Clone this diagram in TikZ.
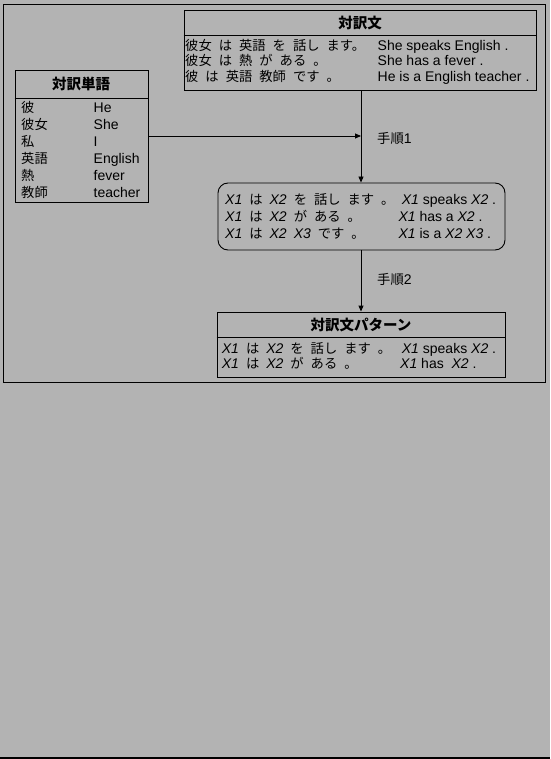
\documentclass[tikz,border=0pt]{standalone}
\usepackage{fontspec}
\setmainfont{Liberation Sans}
\newfontfamily\jp{Noto Sans CJK JP}
\usetikzlibrary{arrows.meta}
\definecolor{bg}{RGB}{179,179,179}
\newcommand\J[1]{{\jp\fontsize{13.3pt}{16pt}\selectfont #1}}
\newcommand\JT[1]{{\jp\bfseries\fontsize{14.5pt}{16pt}\selectfont #1}}
\newcommand\js{\hspace{7pt}}
\newcommand\X[1]{\textit{#1}}
\begin{document}
\begin{tikzpicture}[x=1pt,y=-1pt,
  font=\fontsize{14pt}{16pt}\selectfont,
  txt/.style={anchor=base west, inner sep=0pt},
  ttl/.style={anchor=center, inner sep=0pt},
  box/.style={draw, line width=0.9pt, inner sep=0pt},
  conn/.style={line width=0.9pt, -{Triangle[length=6pt,width=5pt]}},
  lab/.style={anchor=west, inner sep=0pt}]
\useasboundingbox (0,0) rectangle (550,759);
\fill[bg] (0,0) rectangle (550,759);
\fill[black] (0,756.6) rectangle (550,759);
\draw[line width=0.9pt] (3.3,4.3) rectangle (545.5,382.7);

% top box
\node[box, minimum width=352pt, minimum height=80pt] (top) at (360,50) {};
\draw[line width=0.9pt] (top.west |- 0,35) -- (top.east |- 0,35);
\node[ttl] (topT) at (360,23.5) {\JT{対訳文}};
\node[txt] (t1a) at (185,50.5) {\J{彼女\js は\js 英語\js を\js 話し\js ます。}};
\node[txt] (t2a) at (185,66) {\J{彼女\js は\js 熱\js が\js ある\js 。}};
\node[txt] (t3a) at (185,81.5) {\J{彼\js は\js 英語\js 教師\js です\js 。}};
\node[txt] (t1b) at (377.5,50.5) {She speaks English .};
\node[txt] (t2b) at (377.5,66) {She has a fever .};
\node[txt] (t3b) at (377.5,81.5) {He is a English teacher .};

% left box
\node[box, minimum width=133pt, minimum height=132pt] (left) at (81.5,136) {};
\draw[line width=0.9pt] (left.west |- 0,98) -- (left.east |- 0,98);
\node[ttl] (leftT) at (81,83.5) {\JT{対訳単語}};
\node[txt] (w1a) at (21,112.5) {\J{彼}};
\node[txt] (w2a) at (21,129.5) {\J{彼女}};
\node[txt] (w3a) at (21,146.5) {\J{私}};
\node[txt] (w4a) at (21,163.5) {\J{英語}};
\node[txt] (w5a) at (21,180.5) {\J{熱}};
\node[txt] (w6a) at (21,197.3) {\J{教師}};
\node[txt] (w1b) at (93.5,112.5) {He};
\node[txt] (w2b) at (93.5,129.5) {She};
\node[txt] (w3b) at (93.5,146.5) {I};
\node[txt] (w4b) at (93.5,163.5) {English};
\node[txt] (w5b) at (93.5,180.5) {fever};
\node[txt] (w6b) at (93.5,197.3) {teacher};

% middle rounded box
\node[box, rounded corners=10pt, minimum width=287pt, minimum height=67pt] (mid) at (361.5,216.5) {};
\node[txt] (m1a) at (225,204.5) {\X{X1}\js\J{は}\js\X{X2}\js\J{を\js 話し\js ます\js 。}};
\node[txt] (m2a) at (225,221.5) {\X{X1}\js\J{は}\js\X{X2}\js\J{が\js ある\js 。}};
\node[txt] (m3a) at (225,238) {\X{X1}\js\J{は}\js\X{X2}\js\X{X3}\js\J{です\js 。}};
\node[txt] (m1b) at (401.7,204.5) {\X{X1} speaks \X{X2} .};
\node[txt] (m2b) at (398.3,221.5) {\X{X1} has a \X{X2} .};
\node[txt] (m3b) at (398.3,238) {\X{X1} is a \X{X2} \X{X3} .};

% bottom box
\node[box, minimum width=288pt, minimum height=65pt] (bot) at (361,344.5) {};
\draw[line width=0.9pt] (bot.west |- 0,337) -- (bot.east |- 0,337);
\node[ttl] (botT) at (361,325) {\JT{対訳文パターン}};
\node[txt] (b1a) at (221.7,353.3) {\X{X1}\js\J{は}\js\X{X2}\js\J{を\js 話し\js ます\js 。}};
\node[txt] (b2a) at (221.7,368.3) {\X{X1}\js\J{は}\js\X{X2}\js\J{が\js ある\js 。}};
\node[txt] (b1b) at (401.7,353.3) {\X{X1} speaks \X{X2} .};
\node[txt] (b2b) at (400,368.3) {\X{X1} has\ \ \X{X2} .};

% connectors
\coordinate (j1) at (361,136);
\draw[conn] (left.east |- j1) -- (j1);
\draw[conn] (top.south -| j1) -- (mid.north -| j1);
\draw[conn] (mid.south -| j1) -- (bot.north -| j1);
\node[lab] (s1) at (377,138) {\J{手順}1};
\node[lab] (s2) at (377,279.5) {\J{手順}2};
\end{tikzpicture}
\end{document}
